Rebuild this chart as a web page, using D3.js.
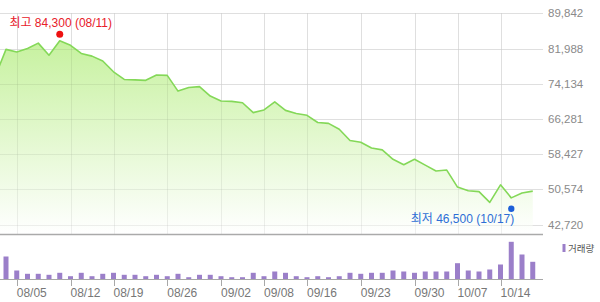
<!DOCTYPE html>
<html>
<head>
    <meta charset="utf-8">
    <script src="https://d3js.org/d3.v7.min.js"></script>
    <style>
        body { margin: 0; background: #fff; }
        text { font-family: "Liberation Sans", Arial, "Noto Sans CJK KR", sans-serif; }
    </style>
</head>
<body>
    <svg id="chart" width="600" height="302"></svg>

    <script>
        // daily data (first point sits just left of the visible area)
        const dates = ["08/01", "08/02", "08/05", "08/06", "08/07", "08/08", "08/09", "08/12", "08/13", "08/14",
            "08/16", "08/19", "08/20", "08/21", "08/22", "08/23", "08/26", "08/27", "08/28", "08/29",
            "08/30", "09/02", "09/03", "09/04", "09/05", "09/08", "09/09", "09/10", "09/11", "09/16",
            "09/17", "09/18", "09/19", "09/20", "09/23", "09/24", "09/25", "09/26", "09/27", "09/30",
            "10/01", "10/02", "10/04", "10/07", "10/08", "10/10", "10/11", "10/14", "10/15", "10/16", "10/17"];

        const closes = [75800, 81800, 81200, 82000, 83200, 80500, 83700, 82700, 80900, 80300,
            79200, 76800, 75100, 75000, 74900, 76100, 76000, 72500, 73300, 73500,
            71400, 70300, 70200, 69900, 67700, 68300, 70100, 68200, 67500, 67100,
            65500, 65300, 64000, 61500, 61100, 59800, 59400, 57300, 56100, 57300,
            56000, 54700, 54900, 51100, 50300, 50100, 47700, 51600, 48700, 49800, 50200];

        // volume, thousand shares
        const volumes = [12000, 23000, 9000, 5700, 5700, 4700, 6700, 3300, 6700, 3300,
            5700, 6700, 4700, 4700, 3300, 4700, 3300, 5700, 2300, 4700,
            4700, 3300, 2300, 2300, 6700, 3300, 8000, 6700, 3300, 2300,
            3300, 2300, 3300, 6700, 5700, 6700, 6700, 9000, 8000, 6700,
            8000, 8000, 8000, 16300, 9000, 8000, 10000, 15000, 37700, 25000, 17700];

        const priceTicks = [42720, 50574, 58427, 66281, 74134, 81988, 89842];
        const dateTicks = ["08/05", "08/12", "08/19", "08/26", "09/02", "09/08", "09/16", "09/23", "09/30", "10/07", "10/14"];

        const highMark = { date: "08/09", value: 84300, label: "최고 84,300 (08/11)" };
        const lowMark = { date: "10/15", value: 46500, label: "최저 46,500 (10/17)" };
        const volumeLabel = "거래량";

        const svg = d3.select("#chart");
        const plotRight = 543, plotTop = 13.3, plotBottom = 234;

        const x = d3.scalePoint()
            .domain(dates)
            .range([-4.75, 532.75]);

        const y = d3.scaleLinear()
            .domain([42720, 89842])
            .range([224.7, plotTop]);

        const yVol = d3.scaleLinear()
            .domain([0, 45000])
            .range([279.5, 234.5]);

        // gradient for the area
        const defs = svg.append("defs");
        const grad = defs.append("linearGradient")
            .attr("id", "areaFill")
            .attr("gradientUnits", "userSpaceOnUse")
            .attr("x1", 0).attr("x2", 0)
            .attr("y1", 30).attr("y2", plotBottom);
        grad.append("stop").attr("offset", "0%").attr("stop-color", "#b9ee88");
        grad.append("stop").attr("offset", "100%").attr("stop-color", "#ffffff");

        defs.append("clipPath").attr("id", "plotClip")
            .append("rect")
            .attr("x", 0).attr("y", 0)
            .attr("width", plotRight).attr("height", plotBottom);

        // grid
        const grid = svg.append("g");
        grid.selectAll(".hgrid")
            .data(priceTicks)
            .join("line")
            .attr("x1", 0).attr("x2", plotRight)
            .attr("y1", d => Math.round(y(d)) + 0.5)
            .attr("y2", d => Math.round(y(d)) + 0.5)
            .attr("stroke", "#ebebeb");

        grid.selectAll(".vgrid")
            .data(dateTicks)
            .join("line")
            .attr("x1", d => Math.round(x(d)) + 0.5)
            .attr("x2", d => Math.round(x(d)) + 0.5)
            .attr("y1", Math.round(plotTop))
            .attr("y2", plotBottom)
            .attr("stroke", "#ebebeb");

        // price area + line
        const g = svg.append("g").attr("clip-path", "url(#plotClip)");

        const area = d3.area()
            .x((d, i) => x(dates[i]))
            .y0(plotBottom)
            .y1(d => y(d));

        const line = d3.line()
            .x((d, i) => x(dates[i]))
            .y(d => y(d));

        g.append("path")
            .datum(closes)
            .attr("d", area)
            .attr("fill", "url(#areaFill)")
            .attr("opacity", 0.85);

        // redraw grid faintly over the fill so it shows through
        g.selectAll(".vgrid2")
            .data(dateTicks)
            .join("line")
            .attr("x1", d => Math.round(x(d)) + 0.5)
            .attr("x2", d => Math.round(x(d)) + 0.5)
            .attr("y1", Math.round(plotTop))
            .attr("y2", plotBottom)
            .attr("stroke", "#000")
            .attr("stroke-opacity", 0.05);
        g.selectAll(".hgrid2")
            .data(priceTicks)
            .join("line")
            .attr("x1", 0).attr("x2", plotRight)
            .attr("y1", d => Math.round(y(d)) + 0.5)
            .attr("y2", d => Math.round(y(d)) + 0.5)
            .attr("stroke", "#000")
            .attr("stroke-opacity", 0.05);

        g.append("path")
            .datum(closes)
            .attr("d", line)
            .attr("fill", "none")
            .attr("stroke", "#84d858")
            .attr("stroke-width", 1.6)
            .attr("stroke-linejoin", "round");

        // separator between price and volume panels
        svg.append("line")
            .attr("x1", 0).attr("x2", plotRight)
            .attr("y1", plotBottom + 0.5).attr("y2", plotBottom + 0.5)
            .attr("stroke", "#aaaaaa")
            .attr("stroke-width", 1.5);

        // right axis labels
        svg.append("g")
            .selectAll("text")
            .data(priceTicks)
            .join("text")
            .attr("x", 548)
            .attr("y", d => y(d) + 4)
            .attr("font-size", "11.5px")
            .attr("fill", "#8a8a8a")
            .text(d => d3.format(",")(d));

        // high / low markers
        svg.append("circle")
            .attr("cx", x(highMark.date))
            .attr("cy", y(highMark.value) - 4)
            .attr("r", 3.5)
            .attr("fill", "#ee1111");
        svg.append("text")
            .attr("x", x(highMark.date) + 1)
            .attr("y", y(highMark.value) - 11.5)
            .attr("text-anchor", "middle")
            .attr("font-size", "12px")
            .attr("fill", "#e8202a")
            .text(highMark.label);

        svg.append("circle")
            .attr("cx", x(lowMark.date))
            .attr("cy", y(lowMark.value) + 1)
            .attr("r", 3.2)
            .attr("fill", "#1c5fd8");
        svg.append("text")
            .attr("x", x(lowMark.date) + 3)
            .attr("y", y(lowMark.value) + 15.5)
            .attr("text-anchor", "end")
            .attr("font-size", "12px")
            .attr("fill", "#2d6ed6")
            .text(lowMark.label);

        // volume bars
        svg.append("g")
            .attr("clip-path", "url(#plotClip2)")
            .selectAll("rect")
            .data(volumes)
            .join("rect")
            .attr("x", (d, i) => x(dates[i]) - 2.5)
            .attr("width", 5)
            .attr("y", d => yVol(d))
            .attr("height", d => yVol(0) - yVol(d))
            .attr("fill", "#9b7fc9")
            .attr("display", (d, i) => x(dates[i]) < 0 ? "none" : null);

        // volume baseline and ticks
        svg.append("line")
            .attr("x1", 0).attr("x2", plotRight)
            .attr("y1", 279.5).attr("y2", 279.5)
            .attr("stroke", "#a8a8a8");

        const xAxis = svg.append("g");
        xAxis.selectAll("line")
            .data(dateTicks)
            .join("line")
            .attr("x1", d => Math.round(x(d)) + 0.5)
            .attr("x2", d => Math.round(x(d)) + 0.5)
            .attr("y1", 280).attr("y2", 286)
            .attr("stroke", "#a8a8a8");
        xAxis.selectAll("text")
            .data(dateTicks)
            .join("text")
            .attr("x", d => x(d))
            .attr("y", 296.5)
            .attr("font-size", "12px")
            .attr("fill", "#777")
            .text(d => d);

        // legend
        svg.append("rect")
            .attr("x", 562.5).attr("y", 244)
            .attr("width", 3).attr("height", 8)
            .attr("fill", "#9b7fc9");
        svg.append("text")
            .attr("x", 568)
            .attr("y", 251.5)
            .attr("font-size", "9.5px")
            .attr("fill", "#555")
            .text(volumeLabel);
    </script>
</body>
</html>
